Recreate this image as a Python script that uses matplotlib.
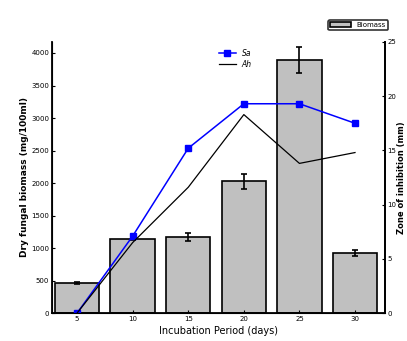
import matplotlib.pyplot as plt
import numpy as np

days = ['5', '10', '15', '20', '25', '30']
biomass = [460, 1140, 1170, 2030, 3890, 925]
biomass_err = [15, 20, 60, 115, 200, 50]
sa = [0, 7.1, 15.2, 19.3, 19.3, 17.5]
ah = [0, 6.5, 11.6, 18.3, 13.8, 14.8]

fig = plt.figure(figsize=(4.07, 3.41), dpi=100)
ax = fig.add_axes([0.128, 0.082, 0.818, 0.795])
x = np.arange(len(days))

ax.bar(x, biomass, width=0.8, color='#c0c0c0', edgecolor='black', linewidth=1.2,
       yerr=biomass_err, capsize=2.5, error_kw=dict(elinewidth=1.2, capthick=1.2),
       label='Biomass')
ax.set_xlim(-0.45, 5.54)
ax.set_ylim(0, 4170)
ax.set_yticks(np.arange(0, 4001, 500))
ax.set_xticks(x)
ax.set_xticklabels(days)
ax.tick_params(labelsize=5, length=2, direction='in', pad=2)
ax.set_xlabel('Incubation Period (days)', fontsize=7, labelpad=3)
ax.set_ylabel('Dry fungal biomass (mg/100ml)', fontsize=6.5, fontweight='bold', labelpad=2)
ax.spines['top'].set_visible(False)
for s in ['left', 'bottom', 'right']:
    ax.spines[s].set_linewidth(1.3)

ax2 = ax.twinx()
ax2.plot(x, sa, color='blue', marker='s', markersize=5, linewidth=1.1, label='Sa')
ax2.plot(x, ah, color='black', linewidth=0.9, label='Ah')
ax2.set_ylim(0, 25)
ax2.set_yticks(np.arange(0, 26, 5))
ax2.tick_params(labelsize=5, length=2, direction='in', pad=1.5)
ax2.set_ylabel('Zone of inhibition (mm)', fontsize=6, fontweight='bold', labelpad=1)
ax2.spines['top'].set_visible(False)
ax2.spines['right'].set_linewidth(1.3)

leg2 = ax2.legend(loc='upper left', bbox_to_anchor=(0.48, 1.0), frameon=False,
                  handlelength=2.2, labelspacing=0.3,
                  prop=dict(style='italic', size=5.5))
leg1 = ax.legend(loc='lower right', bbox_to_anchor=(1.02, 1.03), fontsize=5,
                 frameon=True, fancybox=True, edgecolor='black', handlelength=3,
                 borderpad=0.3)
leg1.get_frame().set_linewidth(1.2)

fig.savefig('out.png', dpi=100)
